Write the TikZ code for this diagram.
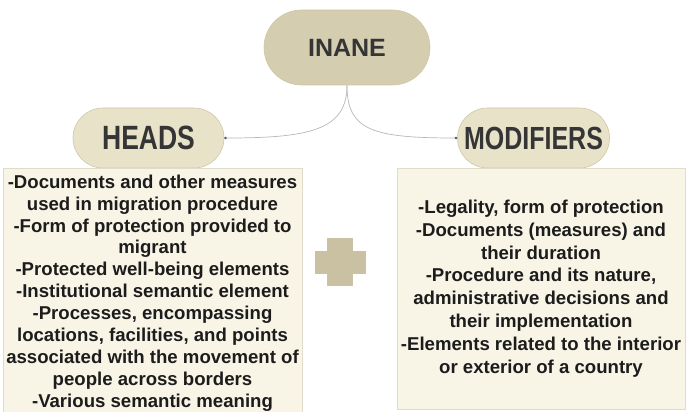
\documentclass[tikz,border=0pt]{standalone}
\usepackage{fontspec}
\setmainfont{Liberation Sans}
\usetikzlibrary{shapes.misc,arrows.meta}
\definecolor{pillA}{HTML}{D5CDB0}
\definecolor{pillB}{HTML}{E8E2C9}
\definecolor{pillEdge}{HTML}{CFC7A9}
\definecolor{boxfill}{HTML}{F8F4E6}
\definecolor{boxline}{HTML}{E0DBCB}
\definecolor{plusc}{HTML}{C9C1A2}
\definecolor{linec}{HTML}{B8B8B8}
\definecolor{headtxt}{HTML}{353535}
\definecolor{bodytxt}{HTML}{1C1C1C}
\begin{document}
\begin{tikzpicture}[x=1pt,y=-1pt,
  pill/.style={rounded rectangle, draw=pillEdge, line width=0.6pt, inner sep=0pt, text=headtxt},
  infobox/.style={rectangle, draw=boxline, line width=0.6pt, fill=boxfill, text=bodytxt, align=center,
    font=\bfseries\fontsize{18.6}{22.2}\selectfont},
  conn/.style={draw=linec, line width=0.7pt, -{Circle[length=2.4pt,color=black!65]}}]
\clip (0,0) rectangle (686,412);
\fill[white] (0,0) rectangle (686,412);
% top node
\node[pill, fill=pillA, minimum width=166pt, minimum height=75pt,
  font=\bfseries\fontsize{25}{30}\selectfont] (inane) at (347,47.5) {INANE};
\node[pill, fill=pillB, minimum width=151pt, minimum height=60pt,
  font=\bfseries\fontsize{26.5}{30}\selectfont] (heads) at (148.5,138) {\scalebox{1}[1.27]{HEADS}};
\node[pill, fill=pillB, minimum width=152pt, minimum height=60pt,
  font=\bfseries\fontsize{25}{30}\selectfont] (mods) at (533.5,138) {\scalebox{1}[1.28]{MODIFIERS}};
% connectors
\draw[conn] (inane.south) .. controls +(0,45) and +(85,0) .. (heads.east);
\draw[conn] (inane.south) .. controls +(0,45) and +(-85,0) .. (mods.west);
% heads box
\node[infobox, anchor=north, minimum width=299pt, inner xsep=2pt, inner ysep=6.5pt,
  font=\bfseries\fontsize{18.6}{21.9}\selectfont] (hbox) at (152.5,168)
{-Documents and other measures\\
used in migration procedure\\
-Form of protection provided to\\
migrant\\
-Protected well-being elements\\
-Institutional semantic element\\
-Processes, encompassing\\
locations, facilities, and points\\
associated with the movement of\\
people across borders\\
-Various semantic meaning};
% modifiers box
\node[infobox, minimum width=288pt, minimum height=241pt, inner sep=2pt,
  font=\bfseries\fontsize{18.6}{22.8}\selectfont] (mbox) at (541,288.5)
{-Legality, form of protection\\
-Documents (measures) and\\
their duration\\
-Procedure and its nature,\\
administrative decisions and\\
their implementation\\
-Elements related to the interior\\
or exterior of a country};
% plus sign
\fill[plusc] (315,251) rectangle (366,274);
\fill[plusc] (327,238) rectangle (353,286);
\end{tikzpicture}
\end{document}
